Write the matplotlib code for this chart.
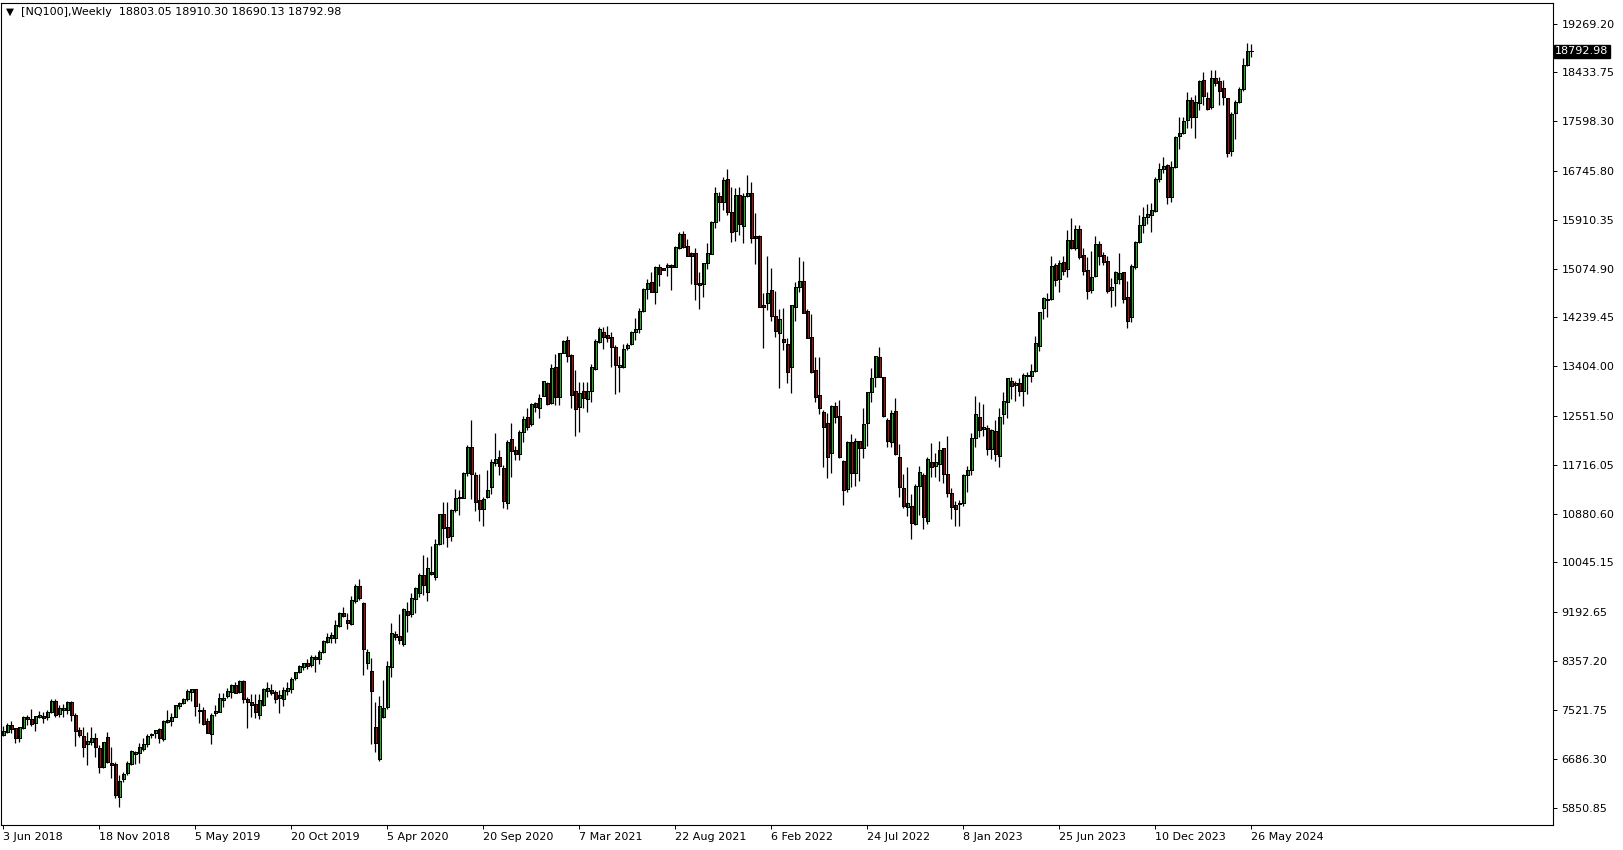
import matplotlib
matplotlib.use("Agg")
import matplotlib.pyplot as plt
import numpy as np

#%%
"""
weekly NQ100 candles, 3 Jun 2018 - 26 May 2024 (values read off the chart)
"""
header = "[NQ100],Weekly  18803.05 18910.30 18690.13 18792.98"

opens = [
    7086, 7137, 7257, 7206, 7046, 7217, 7394, 7360, 7292, 7400, 7417, 7394,
    7491, 7674, 7446, 7526, 7514, 7651, 7434, 7177, 7075, 6932, 6978, 7035,
    6875, 6538, 7058, 6613, 6590, 6025, 6333, 6447, 6590, 6767, 6790, 6852,
    6932, 7086, 7120, 7195, 7029, 7309, 7337, 7406, 7594, 7634, 7702, 7834,
    7873, 7525, 7520, 7331, 7103, 7463, 7491, 7697, 7765, 7834, 7948, 7822,
    8016, 7708, 7657, 7617, 7434, 7611, 7851, 7857, 7822, 7731, 7702, 7851,
    7879, 8062, 8164, 8261, 8318, 8290, 8421, 8398, 8512, 8689, 8758, 8758,
    8963, 9185, 9060, 8986, 9391, 9648, 9357, 8330, 8187, 7234, 6675, 7406,
    7565, 8261, 8815, 8786, 8650, 9214, 9157, 9414, 9517, 9830, 9534, 9882,
    9802, 10355, 10869, 10646, 10498, 10943, 11154, 11154, 11582, 12015, 11536, 11114,
    10954, 11171, 11331, 11741, 11844, 11656, 11057, 12152, 11970, 11895, 12283, 12529,
    12409, 12768, 12683, 12899, 13111, 12780, 13384, 12871, 13635, 13852, 13595, 12979,
    12711, 12979, 12837, 12985, 13350, 13824, 13983, 13938, 13898, 13727, 13384, 13384,
    13710, 13778, 13995, 14035, 14354, 14719, 14839, 14680, 15107, 15078, 15107, 15136,
    15096, 15433, 15661, 15461, 15341, 15336, 14822, 14811, 15164, 15324, 15878, 16317,
    16220, 16602, 16049, 15723, 16334, 15809, 16317, 16363, 15626, 15632, 14446, 14480,
    14708, 14263, 13966, 13869, 13778, 13396, 14423, 14753, 14862, 14349, 13898, 13339,
    12911, 12614, 12426, 11912, 12723, 12551, 11781, 11296, 12107, 11581, 12124, 12009,
    12426, 12968, 13213, 13555, 13213, 12483, 12112, 12631, 11844, 11313, 10988, 11017,
    10697, 11354, 11542, 10760, 11758, 11701, 11724, 11998, 11559, 11228, 11028, 11040,
    11057, 11542, 11627, 12169, 12528, 12323, 12340, 11981, 12295, 11872, 12580, 12797,
    13150, 13076, 13111, 12985, 13240, 13242, 13327, 13755, 14394, 14542, 14548, 15136,
    14891, 15182, 15062, 15564, 15433, 15752, 15307, 15050, 14708, 14948, 15495, 15307,
    15205, 14708, 14834, 14896, 15010, 14582, 14240, 15107, 15524, 15820, 15963, 15992,
    16066, 16608, 16773, 16842, 16306, 16819, 17344, 17389, 17618, 17960, 17663, 17914,
    18302, 17989, 17834, 18331, 18285, 18160, 17989, 17093, 17732, 17931, 18143, 18559,
    18803.05,
]
highs = [
    7246, 7292, 7337, 7217, 7234, 7417, 7434, 7531, 7411, 7508, 7491, 7520,
    7708, 7708, 7605, 7622, 7674, 7674, 7463, 7234, 7234, 7149, 7234, 7120,
    6921, 6978, 7149, 6881, 6635, 6407, 6464, 6647, 6835, 6824, 6949, 7035,
    7103, 7132, 7177, 7217, 7349, 7520, 7463, 7605, 7662, 7731, 7879, 7885,
    7885, 7634, 7565, 7383, 7463, 7605, 7805, 7805, 7890, 7965, 8005, 8033,
    8033, 7748, 7794, 7788, 7794, 7890, 7993, 7959, 7862, 7862, 7919, 7993,
    8079, 8176, 8290, 8330, 8392, 8461, 8461, 8547, 8718, 8832, 8860, 9060,
    9203, 9288, 9174, 9476, 9670, 9762, 9374, 8558, 8404, 7662, 7759, 8033,
    8364, 9003, 8878, 9163, 9260, 9374, 9528, 9631, 9859, 10173, 10133, 10327,
    10441, 10869, 11074, 11074, 10960, 11302, 11285, 11599, 12055, 12483, 11599, 11559,
    11171, 11627, 11810, 12266, 11970, 11713, 12141, 12437, 12044, 12312, 12552, 12683,
    12768, 12797, 12928, 13150, 13128, 13441, 13612, 13635, 13852, 13920, 13613, 13339,
    13139, 13139, 13128, 13436, 13864, 14080, 14080, 14092, 13995, 13767, 13578, 13778,
    13807, 14012, 14223, 14394, 14737, 14891, 15010, 15119, 15147, 15090, 15176, 15147,
    15461, 15706, 15718, 15581, 15364, 15421, 15010, 15176, 15507, 15889, 16465, 16391,
    16636, 16773, 16465, 16448, 16465, 16363, 16676, 16562, 16020, 15649, 14651, 15290,
    15079, 14691, 14377, 14394, 13881, 14451, 14850, 15279, 15204, 14383, 14297, 13555,
    13555, 12654, 12609, 12740, 12797, 12825, 11798, 12124, 12243, 12181, 12129, 12694,
    12968, 13367, 13578, 13727, 13225, 12511, 12654, 12854, 12066, 11559, 11673, 11216,
    11388, 11696, 11582, 11855, 12084, 11912, 12118, 11998, 12209, 11313, 11097, 11114,
    11559, 11696, 12266, 12893, 12797, 12757, 12397, 12323, 12483, 12683, 12956, 13207,
    13225, 13156, 13196, 13282, 13310, 13441, 13921, 14337, 14594, 14662, 15296, 15165,
    15222, 15290, 15735, 15946, 15821, 15821, 15421, 15279, 15381, 15632, 15552, 15364,
    15296, 14919, 15039, 15336, 15022, 14868, 15153, 15552, 15992, 16123, 16180, 16191,
    16636, 16876, 16978, 16864, 16916, 17344, 17663, 17675, 18103, 18017, 18046, 18302,
    18434, 18103, 18474, 18474, 18359, 18302, 18000, 17760, 17960, 18188, 18673, 18941,
    18910.30,
]
lows = [
    7070, 7120, 7132, 6949, 6978, 7189, 7263, 7252, 7160, 7377, 7303, 7349,
    7474, 7394, 7406, 7394, 7446, 7337, 6904, 7052, 6721, 6578, 6921, 6710,
    6447, 6521, 6607, 6350, 6019, 5865, 6293, 6407, 6578, 6590, 6618, 6824,
    6892, 7035, 7046, 6949, 6995, 7292, 7252, 7394, 7543, 7617, 7674, 7674,
    7417, 7292, 7263, 7120, 6938, 7423, 7480, 7577, 7719, 7731, 7805, 7816,
    7634, 7217, 7406, 7377, 7360, 7588, 7748, 7776, 7634, 7463, 7588, 7776,
    7805, 8033, 8147, 8204, 8221, 8261, 8176, 8307, 8501, 8672, 8672, 8672,
    8935, 9106, 8906, 8974, 9345, 9402, 8119, 8221, 6938, 6807, 6652, 7377,
    7537, 8090, 8718, 8650, 8620, 8860, 9117, 9185, 9459, 9488, 9385, 9830,
    9745, 10344, 10361, 10315, 10418, 10903, 10857, 11142, 11530, 11131, 10931, 10760,
    10674, 11154, 11216, 11701, 11542, 10971, 10954, 11513, 11798, 11798, 12101, 12312,
    12380, 12626, 12512, 12894, 12740, 12757, 12740, 12740, 13624, 13481, 12683, 12215,
    12283, 12683, 12626, 12797, 13339, 13807, 13704, 13824, 13396, 12922, 12968, 13367,
    13681, 13767, 13852, 13966, 14326, 14548, 14668, 14463, 14782, 15050, 14954, 14708,
    15096, 15410, 15421, 15290, 14811, 14537, 14383, 14594, 15062, 15318, 15775, 15895,
    16077, 15992, 15535, 15552, 15649, 15507, 16305, 15518, 15153, 14411, 13721, 14366,
    14183, 13909, 13036, 13681, 13111, 12951, 14183, 14668, 14308, 13881, 13293, 12797,
    12586, 11684, 11496, 11581, 12437, 11827, 11028, 11245, 11330, 11353, 11445, 11827,
    12038, 12797, 13053, 13213, 12540, 12015, 12015, 11884, 11171, 10971, 10845, 10441,
    10686, 10857, 10617, 10703, 11502, 11502, 11445, 11410, 11171, 10783, 10669, 10675,
    11017, 11256, 11542, 12027, 12198, 12209, 11884, 11810, 11787, 11684, 12415, 12511,
    12842, 12814, 12900, 12728, 12928, 13139, 13299, 13670, 14206, 14240, 14537, 14782,
    14679, 14965, 14925, 15410, 15393, 15233, 14965, 14554, 14651, 14925, 15136, 15136,
    14663, 14423, 14440, 14805, 14480, 14064, 14166, 15062, 15507, 15678, 15838, 15695,
    16049, 16562, 16716, 16174, 16220, 16790, 17116, 17378, 17475, 17475, 17315, 17789,
    17874, 17789, 17806, 18200, 17874, 17874, 16979, 17002, 17287, 17903, 18120, 18542,
    18690.13,
]
closes = [
    7166, 7257, 7200, 7046, 7223, 7394, 7360, 7286, 7411, 7428, 7389, 7491,
    7674, 7428, 7548, 7548, 7651, 7434, 7166, 7098, 6881, 6989, 7035, 6892,
    6538, 6966, 6635, 6584, 6065, 6299, 6419, 6607, 6818, 6807, 6892, 6938,
    7075, 7109, 7172, 7035, 7331, 7349, 7406, 7600, 7640, 7708, 7845, 7873,
    7594, 7508, 7280, 7132, 7434, 7508, 7719, 7731, 7845, 7948, 7816, 8016,
    7702, 7662, 7605, 7491, 7691, 7879, 7891, 7816, 7702, 7771, 7856, 7891,
    8044, 8164, 8273, 8318, 8273, 8421, 8398, 8512, 8701, 8769, 8803, 8975,
    9185, 9134, 9014, 9402, 9648, 9442, 8558, 8518, 7851, 6949, 7588, 7548,
    8273, 8832, 8775, 8718, 9248, 9146, 9431, 9602, 9830, 9653, 9944, 9847,
    10355, 10869, 10640, 10486, 10943, 11142, 11165, 11582, 12015, 11553, 11074, 10954,
    11137, 11285, 11758, 11810, 11690, 11102, 12101, 11958, 11901, 12272, 12506, 12369,
    12751, 12711, 12854, 13150, 12757, 13367, 12882, 13624, 13835, 13584, 12911, 12665,
    12939, 12854, 12979, 13396, 13841, 14035, 13909, 13881, 13727, 13424, 13424, 13698,
    13767, 13995, 14035, 14349, 14725, 14833, 14679, 15096, 14976, 15056, 15136, 15096,
    15438, 15666, 15438, 15296, 15296, 14805, 14799, 15164, 15336, 15872, 16362, 16208,
    16591, 16037, 15695, 16334, 15832, 16317, 16368, 15592, 15604, 14423, 14423, 14651,
    14269, 14012, 14206, 13812, 13310, 14451, 14753, 14862, 14320, 13892, 13310, 12882,
    12683, 12369, 11844, 12723, 12540, 11855, 11285, 12107, 11581, 12129, 11998, 12414,
    12956, 13196, 13578, 13225, 12557, 12129, 12597, 11895, 11330, 11011, 11057, 10715,
    11354, 11587, 10829, 11815, 11684, 11770, 11969, 11553, 11228, 10988, 10954, 11063,
    11542, 11627, 12175, 12586, 12312, 12357, 11981, 12312, 11895, 12529, 12808, 13196,
    13071, 13122, 12985, 13253, 13250, 13316, 13795, 14326, 14565, 14554, 15119, 14879,
    15165, 15039, 15564, 15433, 15752, 15279, 15039, 14697, 14925, 15495, 15296, 15193,
    14691, 14754, 15010, 14993, 14548, 14183, 15125, 15524, 15820, 15963, 16009, 16077,
    16602, 16773, 16830, 16306, 16819, 17332, 17389, 17601, 17960, 17663, 17920, 18285,
    18034, 17806, 18331, 18245, 18114, 18017, 17047, 17720, 17931, 18143, 18559, 18804,
    18792.98,
]

# one label every 24 weeks
date_labels = ["3 Jun 2018", "18 Nov 2018", "5 May 2019", "20 Oct 2019",
               "5 Apr 2020", "20 Sep 2020", "7 Mar 2021", "22 Aug 2021",
               "6 Feb 2022", "24 Jul 2022", "8 Jan 2023", "25 Jun 2023",
               "10 Dec 2023", "26 May 2024"]
price_ticks = [19269.20, 18433.75, 17598.30, 16745.80, 15910.35, 15074.90,
               14239.45, 13404.00, 12551.50, 11716.05, 10880.60, 10045.15,
               9192.65, 8357.20, 7521.75, 6686.30, 5850.85]
last_price = 18792.98

#%%
o = np.array(opens, dtype=float)
h = np.array(highs, dtype=float)
l = np.array(lows, dtype=float)
c = np.array(closes, dtype=float)
n = len(c)
idx = np.arange(n)
up = c >= o

plt.rcParams['font.family'] = 'DejaVu Sans'
fig = plt.figure(figsize=(16.24, 8.5), dpi=100)
W, H = 1624.0, 850.0
ax = fig.add_axes([1.5/W, 1-825/H, (1553-1.5)/W, 822/H])

ax.vlines(idx, l, h, color='black', linewidth=0.9)
body_lo = np.minimum(o, c)
body_h = np.maximum(np.abs(c - o), 12)
ax.bar(idx, body_h, bottom=body_lo, width=0.75,
       color=np.where(up, '#18d818', '#d00c0c'), edgecolor='black', linewidth=0.5,
       antialiased=False)

ax.set_xlim(-0.5, 387.4)
ax.set_ylim(5551.5, 19620.1)

ax.set_xticks(np.arange(0, n, 24))
ax.set_xticklabels(date_labels, fontsize=8)
for lbl in ax.get_xticklabels():
    lbl.set_horizontalalignment('left')
ax.tick_params(axis='x', direction='out', length=3, width=0.7, pad=2)

ax.yaxis.tick_right()
ax.set_yticks(price_ticks)
ax.set_yticklabels(["%.2f" % p for p in price_ticks], fontsize=8)
ax.tick_params(axis='y', direction='out', length=3, width=0.7, pad=3)

for sp in ax.spines.values():
    sp.set_color('black')
    sp.set_linewidth(0.8)

# current price tag
ax.text(1.0015, last_price, "%.2f" % last_price, transform=ax.get_yaxis_transform(),
        ha='left', va='center', color='white', fontsize=8, clip_on=False,
        bbox=dict(boxstyle='square,pad=0.15', facecolor='black', edgecolor='black'))

fig.text(6/W, 1-12/H, "\u25BC", ha='left', va='center', fontsize=7.5)
fig.text(21/W, 1-12/H, header, ha='left', va='center', fontsize=8)

fig.savefig('out.png', dpi=100, facecolor='white')
